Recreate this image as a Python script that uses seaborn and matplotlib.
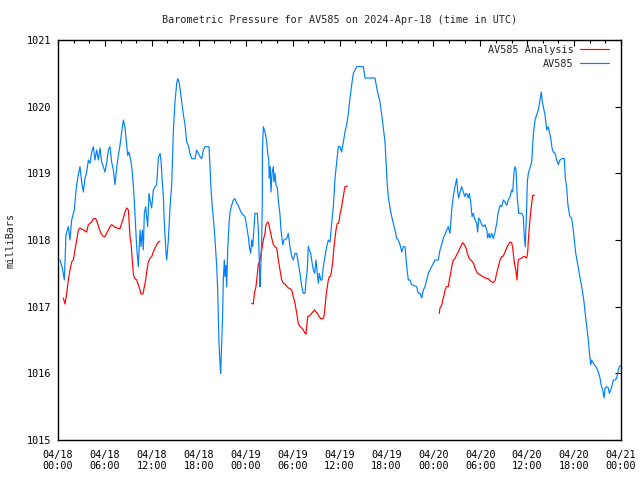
import pandas as pd
import matplotlib
matplotlib.use("Agg")
import matplotlib.pyplot as plt
import matplotlib.dates as mdates
import seaborn as sns

START = pd.Timestamp("2024-04-18 00:00")

# AV585 observed pressure (hours after start, mb)
obs_hours = [
    0.26, 0.55, 0.81, 1.02, 1.32, 1.53, 1.75, 2.09, 2.26, 2.39, 2.60, 2.81, 3.03, 3.24, 3.45, 3.67,
    3.88, 4.09, 4.31, 4.52, 4.73, 4.95, 5.16, 5.37, 5.58, 5.80, 6.01, 6.22, 6.44, 6.65, 6.86, 7.08,
    7.29, 7.50, 7.72, 7.93, 8.14, 8.36, 8.57, 8.78, 8.91, 9.08, 9.34, 9.50, 9.68, 9.85, 10.06, 10.27,
    10.49, 10.62, 10.79, 10.91, 11.04, 11.21, 11.47, 11.64, 11.77, 11.98, 12.19, 12.41, 12.62, 12.83,
    13.05, 13.17, 13.34, 13.47, 13.60, 13.81, 13.90, 14.11, 14.32, 14.54, 14.75, 14.96, 15.18, 15.31,
    15.48, 15.60, 15.82, 16.03, 16.24, 16.46, 16.67, 16.88, 17.10, 17.52, 17.74, 17.95, 18.16, 18.38,
    18.59, 18.80, 19.31, 19.44, 19.57, 19.74, 19.91, 20.08, 20.30, 20.42, 20.50, 20.59, 20.72, 20.80,
    20.93, 21.06, 21.14, 21.27, 21.36, 21.49, 21.57, 21.70, 21.87, 22.00, 22.21, 22.42, 22.64, 22.85,
    23.06, 23.28, 23.49, 23.92, 24.13, 24.34,
    24.47, 24.64, 24.77, 24.90, 25.07, 25.19, 25.49, 25.62, 25.74, 25.83, 25.92, 26.05, 26.13, 26.14,
    26.26, 26.38, 26.51, 26.69, 26.82, 26.95, 27.02, 27.11, 27.24, 27.37, 27.53, 27.62, 27.75, 27.88,
    28.05, 28.17, 28.39, 28.52, 28.74, 28.90, 29.25, 29.45, 29.67, 29.89, 30.09, 30.31, 30.53, 30.73,
    30.95, 31.17, 31.37, 31.59, 31.72, 31.88, 32.01, 32.14, 32.32, 32.48, 32.65, 32.83, 32.99, 33.16,
    33.29, 33.42, 33.60, 33.76, 33.93, 34.15, 34.36, 34.57, 34.79, 35.00, 35.21, 35.43, 35.64, 35.85,
    36.07, 36.28, 36.49, 36.70, 36.92, 37.13, 37.34, 37.56, 37.77, 37.98, 38.20, 39.05, 39.26, 40.54,
    40.76, 40.96, 41.18, 41.40, 41.60, 41.82, 41.95, 42.11, 42.24, 42.46, 42.68, 42.88, 43.10, 43.32,
    43.52, 43.74, 43.96, 44.16, 44.38, 44.60, 44.80, 45.02, 45.23, 45.66, 45.87, 46.08, 46.30, 46.51,
    46.72, 46.94, 47.15, 47.36, 47.57, 47.79, 48.00, 48.21, 48.64, 48.85, 49.07, 49.28, 49.49, 49.71,
    49.92, 50.13, 50.22, 50.35, 50.55, 50.77, 50.99, 51.12, 51.24, 51.41, 51.63, 51.83, 52.05, 52.18,
    52.35, 52.47, 52.60, 52.78, 52.95, 53.11, 53.33, 53.55, 53.67, 53.80, 53.97, 54.19, 54.39, 54.61,
    54.83, 54.95, 55.12, 55.25, 55.47, 55.67, 55.89, 56.10, 56.31, 56.53, 56.74, 56.95, 57.17, 57.38,
    57.59, 57.81, 58.02, 58.15, 58.32, 58.45, 58.57, 58.74, 58.92, 59.09, 59.30, 59.51, 59.63, 59.76,
    59.94, 60.02, 60.15, 60.36, 60.58, 60.79, 61.00, 61.22, 61.43, 61.64, 61.81, 61.94, 62.06, 62.28,
    62.50, 62.70, 62.83, 63.01, 63.18, 63.34, 63.56, 63.78, 63.98, 64.20, 64.42, 64.75, 64.88, 65.06,
    65.19, 65.31, 65.48, 65.70, 65.90, 66.03, 66.21, 66.41, 66.59, 66.76, 66.98, 67.10, 67.27, 67.44,
    67.62, 67.82, 67.95, 68.13, 68.26, 68.38, 68.59, 68.89, 69.10, 69.32, 69.44, 69.66, 69.83, 69.96,
    70.17, 70.38, 70.51, 70.69, 70.81, 71.02, 71.23, 71.45, 71.66, 71.79, 72.00,
]
obs_mb = [
    1017.70, 1017.58, 1017.40, 1018.08, 1018.20, 1018.00, 1018.30, 1018.45, 1018.68, 1018.83, 1018.98, 1019.10, 1018.87, 1018.72, 1018.93, 1019.02,
    1019.20, 1019.15, 1019.32, 1019.40, 1019.20, 1019.35, 1019.20, 1019.38, 1019.17, 1019.10, 1019.02, 1019.15, 1019.35, 1019.40, 1019.17, 1019.05,
    1018.83, 1019.08, 1019.27, 1019.42, 1019.62, 1019.80, 1019.68, 1019.42, 1019.27, 1019.32, 1019.17, 1019.02, 1018.75, 1018.38, 1017.90, 1017.60,
    1018.15, 1017.90, 1018.15, 1017.85, 1018.40, 1018.50, 1018.20, 1018.70, 1018.60, 1018.48, 1018.75, 1018.80, 1018.83, 1019.23,
    1019.30, 1019.20, 1018.87, 1018.66, 1018.25, 1017.82, 1017.70, 1018.00, 1018.48, 1018.83, 1019.62, 1020.07, 1020.35, 1020.42,
    1020.37, 1020.28, 1020.07, 1019.88, 1019.73, 1019.47, 1019.42, 1019.30, 1019.22, 1019.22, 1019.35, 1019.30, 1019.25, 1019.22,
    1019.35, 1019.40, 1019.40, 1019.10, 1018.75, 1018.48, 1018.27, 1018.00, 1017.60, 1017.25, 1016.90, 1016.45, 1016.15, 1016.00,
    1016.45, 1016.90, 1017.40, 1017.70, 1017.45, 1017.62, 1017.30, 1017.85, 1018.25, 1018.42, 1018.52, 1018.60, 1018.62, 1018.55,
    1018.52, 1018.45, 1018.40, 1018.35, 1018.20, 1018.05,
    1017.90, 1017.80, 1018.00, 1017.90, 1018.20, 1018.40, 1018.40, 1018.15, 1017.70, 1017.30, 1017.55, 1018.00, 1018.60, 1019.35,
    1019.70, 1019.65, 1019.60, 1019.47, 1019.30, 1019.20, 1018.93, 1019.10, 1018.72, 1019.00, 1019.10, 1018.87, 1019.00, 1018.83,
    1018.78, 1018.60, 1018.38, 1018.15, 1017.93, 1018.00, 1018.02, 1018.10, 1017.90, 1017.75, 1017.70, 1017.80, 1017.80, 1017.65,
    1017.50, 1017.30, 1017.20, 1017.20, 1017.40, 1017.55, 1017.90, 1017.85, 1017.80, 1017.67, 1017.55, 1017.50, 1017.70, 1017.50,
    1017.35, 1017.50, 1017.40, 1017.40, 1017.60, 1017.75, 1017.90, 1018.00, 1017.97, 1018.25, 1018.50, 1018.93, 1019.17, 1019.40,
    1019.40, 1019.32, 1019.47, 1019.62, 1019.73, 1019.90, 1020.13, 1020.33, 1020.50, 1020.55, 1020.60, 1020.60, 1020.43, 1020.43,
    1020.28, 1020.18, 1020.07, 1019.88, 1019.68, 1019.47, 1019.17, 1018.83, 1018.65, 1018.48, 1018.35, 1018.25, 1018.15, 1018.02,
    1018.00, 1017.93, 1017.82, 1017.90, 1017.90, 1017.60, 1017.40, 1017.40, 1017.33, 1017.31, 1017.30, 1017.20, 1017.20, 1017.13,
    1017.25, 1017.30, 1017.40, 1017.50, 1017.55, 1017.60, 1017.65, 1017.70, 1017.70, 1017.85, 1017.93, 1018.03, 1018.08, 1018.15,
    1018.20, 1018.10, 1018.25, 1018.45, 1018.65, 1018.80, 1018.92, 1018.72, 1018.63, 1018.72, 1018.80, 1018.72, 1018.65, 1018.70,
    1018.68, 1018.63, 1018.70, 1018.57, 1018.35, 1018.40, 1018.30, 1018.25, 1018.12, 1018.33, 1018.30, 1018.23, 1018.20, 1018.23,
    1018.15, 1018.03, 1018.10, 1018.03, 1018.10, 1018.02, 1018.12, 1018.25, 1018.42, 1018.52, 1018.50, 1018.60, 1018.57, 1018.52,
    1018.60, 1018.65, 1018.75, 1018.72, 1019.02, 1019.10, 1019.05, 1018.63, 1018.40, 1018.40, 1018.40, 1018.35, 1018.05, 1017.90,
    1018.50, 1018.87, 1019.00, 1019.08, 1019.17, 1019.58, 1019.80, 1019.88, 1019.95, 1020.10, 1020.22, 1020.07, 1020.00, 1019.88,
    1019.65, 1019.70, 1019.62, 1019.53, 1019.38, 1019.32, 1019.30, 1019.20, 1019.13, 1019.20, 1019.22, 1019.22, 1018.93, 1018.78,
    1018.55, 1018.45, 1018.35, 1018.32, 1018.15, 1018.00, 1017.80, 1017.67, 1017.55, 1017.43, 1017.30, 1017.20, 1017.07, 1016.88,
    1016.70, 1016.50, 1016.32, 1016.13, 1016.20, 1016.17, 1016.13, 1016.08, 1016.02, 1015.93, 1015.83, 1015.75, 1015.63, 1015.78,
    1015.80, 1015.78, 1015.70, 1015.75, 1015.80, 1015.90, 1015.90, 1015.93, 1016.05, 1016.10, 1016.12,
]

# AV585 analysis, three separate runs (hours after start, mb)
ana_hours_1 = [
    0.68, 0.90, 1.11, 1.32, 1.53, 1.75, 1.96, 2.17, 2.39, 2.60, 2.81, 3.24, 3.67, 3.88, 4.09, 4.31,
    4.52, 4.82, 5.07, 5.24, 5.50, 5.80, 6.01, 6.22, 6.44, 6.65, 6.86, 7.20, 7.50, 7.93, 8.14, 8.36,
    8.57, 8.78, 9.00, 9.08, 9.21, 9.34, 9.50, 9.63, 9.76, 10.06, 10.27, 10.49, 10.62, 10.87, 11.04,
    11.21, 11.34, 11.55, 11.77, 11.98, 12.19, 12.41, 12.62, 12.83, 13.04,
]
ana_mb_1 = [
    1017.13, 1017.04, 1017.20, 1017.40, 1017.55, 1017.67, 1017.70, 1017.85, 1018.00, 1018.15, 1018.18, 1018.15, 1018.12, 1018.23, 1018.25, 1018.27,
    1018.32, 1018.32, 1018.25, 1018.18, 1018.10, 1018.05, 1018.05, 1018.10, 1018.15, 1018.20, 1018.23, 1018.20, 1018.18, 1018.17, 1018.25, 1018.33,
    1018.42, 1018.48, 1018.45, 1018.30, 1018.05, 1017.95, 1017.70, 1017.50, 1017.43, 1017.40, 1017.33, 1017.25, 1017.19, 1017.19, 1017.30,
    1017.40, 1017.52, 1017.67, 1017.73, 1017.75, 1017.82, 1017.88, 1017.93, 1017.97, 1017.98,
]
ana_hours_2 = [
    24.77, 24.98, 25.11, 25.32, 25.41, 25.62, 25.83, 26.05, 26.26, 26.47, 26.60, 26.82, 26.94, 27.11,
    27.33, 27.54, 27.75, 27.97, 28.18, 28.39, 28.61, 28.82, 29.03, 29.25, 29.46, 29.67, 29.89, 30.09,
    30.31, 30.53, 30.73, 30.95, 31.17, 31.37, 31.59, 31.72, 31.81, 31.93, 32.14, 32.44, 32.65, 32.83,
    32.99, 33.16, 33.42, 33.60, 33.85, 34.02, 34.15, 34.27, 34.44, 34.57, 34.70, 34.87, 35.00, 35.13,
    35.30, 35.43, 35.55, 35.72, 35.85, 35.98, 36.07, 36.28, 36.41, 36.58, 36.70, 37.00,
]
ana_mb_2 = [
    1017.05, 1017.04, 1017.20, 1017.30, 1017.40, 1017.63, 1017.70, 1017.85, 1018.00, 1018.10, 1018.23, 1018.27, 1018.25, 1018.15,
    1018.03, 1017.93, 1017.90, 1017.88, 1017.70, 1017.55, 1017.40, 1017.35, 1017.34, 1017.31, 1017.28, 1017.27, 1017.25, 1017.15,
    1017.05, 1016.90, 1016.75, 1016.70, 1016.68, 1016.65, 1016.60, 1016.59, 1016.70, 1016.85, 1016.86, 1016.90, 1016.93, 1016.95,
    1016.92, 1016.90, 1016.85, 1016.82, 1016.82, 1016.85, 1017.00, 1017.15, 1017.30, 1017.40, 1017.45, 1017.46, 1017.55, 1017.67,
    1017.90, 1018.03, 1018.15, 1018.25, 1018.25, 1018.30, 1018.40, 1018.50, 1018.60, 1018.72, 1018.80, 1018.81,
]
ana_hours_3 = [
    48.77, 48.85, 49.07, 49.20, 49.37, 49.49, 49.71, 49.92, 50.04, 50.22, 50.35, 50.55, 50.77, 50.99,
    51.19, 51.41, 51.63, 51.76, 51.96, 52.18, 52.35, 52.56, 52.78, 53.04, 53.20, 53.33, 53.55, 53.75,
    53.97, 54.19, 54.39, 54.61, 55.03, 55.25, 55.47, 55.67, 55.89, 56.10, 56.31, 56.53, 56.74, 56.95,
    57.17, 57.38, 57.59, 57.81, 58.02, 58.15, 58.32, 58.45, 58.57, 58.70, 58.79, 58.87, 59.09, 59.30,
    59.51, 59.72, 59.94, 60.07, 60.15, 60.28, 60.36, 60.45, 60.58, 60.71, 60.92,
]
ana_mb_3 = [
    1016.90, 1016.98, 1017.02, 1017.10, 1017.17, 1017.25, 1017.30, 1017.30, 1017.40, 1017.50, 1017.60, 1017.70, 1017.72, 1017.78,
    1017.82, 1017.88, 1017.93, 1017.96, 1017.93, 1017.88, 1017.80, 1017.73, 1017.70, 1017.67, 1017.63, 1017.58, 1017.52, 1017.49,
    1017.48, 1017.46, 1017.45, 1017.43, 1017.42, 1017.39, 1017.37, 1017.36, 1017.39, 1017.50, 1017.60, 1017.70, 1017.75, 1017.76,
    1017.82, 1017.88, 1017.93, 1017.97, 1017.96, 1017.88, 1017.70, 1017.60, 1017.54, 1017.40, 1017.58, 1017.70, 1017.72, 1017.73,
    1017.75, 1017.75, 1017.73, 1017.82, 1018.00, 1018.20, 1018.30, 1018.42, 1018.55, 1018.67, 1018.67,
]

RED = "#ff0000"
BLUE = "#0080ff"
FS = 7.3


def to_frame(hours, values):
    return pd.DataFrame({
        "time": START + pd.to_timedelta(hours, unit="h"),
        "mb": values,
    })


sns.set_theme(style="white")
plt.rcParams["font.family"] = ["DejaVu Sans Mono"]
plt.rcParams["axes.linewidth"] = 1.0

fig = plt.figure(figsize=(6.4, 4.8), dpi=100)
ax = fig.add_axes([58 / 640, 40 / 480, 563 / 640, 400 / 480])

segments = [(ana_hours_1, ana_mb_1), (ana_hours_2, ana_mb_2), (ana_hours_3, ana_mb_3)]
for i, (h, v) in enumerate(segments):
    sns.lineplot(data=to_frame(h, v), x="time", y="mb", ax=ax, color=RED, lw=0.85,
                 label="AV585 Analysis" if i == 0 else None, legend=False)

sns.lineplot(data=to_frame(obs_hours, obs_mb), x="time", y="mb", ax=ax, color=BLUE, lw=0.85,
             label="AV585", legend=False)

ax.set_xlim(START, START + pd.Timedelta(hours=72))
ax.set_ylim(1015, 1021)
ax.set_yticks(range(1015, 1022))
ax.xaxis.set_major_locator(mdates.HourLocator(byhour=[0, 6, 12, 18]))
ax.xaxis.set_minor_locator(mdates.HourLocator(interval=2))
ax.xaxis.set_major_formatter(mdates.DateFormatter("%m/%d\n%H:%M"))
ax.tick_params(which="both", direction="in", top=True, right=True, colors="black",
               labelsize=FS, width=0.8)
ax.tick_params(which="major", length=4)
ax.tick_params(which="minor", length=2.2)
ax.tick_params(axis="x", pad=7)
ax.tick_params(axis="y", pad=5)
ax.set_xlabel("")
ax.set_ylabel("")
for sp in ax.spines.values():
    sp.set_color("black")

fig.text(340 / 640, 1 - 20 / 480, "Barometric Pressure for AV585 on 2024-Apr-18 (time in UTC)",
         ha="center", va="center", fontsize=FS)
fig.text(11 / 640, 0.5, "milliBars", rotation=90, ha="center", va="center", fontsize=FS)

ax.legend(loc="upper right", bbox_to_anchor=(1 - 12 / 563, 1 - 5 / 400), frameon=False,
          markerfirst=False, fontsize=FS, handlelength=2.9, handletextpad=0.6,
          labelspacing=0.35, borderaxespad=0, borderpad=0)

fig.savefig("out.png", dpi=100)
